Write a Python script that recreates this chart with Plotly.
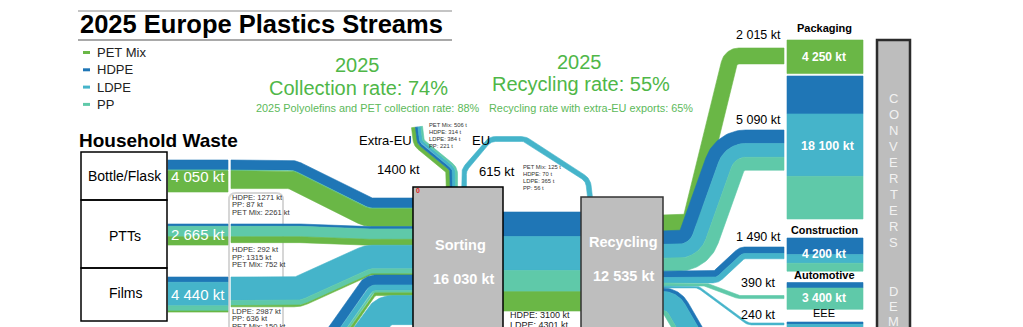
import numpy as np
import plotly.graph_objects as go

W, H = 1023, 327
S = 0.0079  # pixels per kilotonne
FONT = "Liberation Sans, Arial, sans-serif"

COL = {"PET Mix": "#6ab746", "HDPE": "#1f76b6", "LDPE": "#45b4ca", "PP": "#5fc9a9"}
MATERIALS = ["PET Mix", "HDPE", "LDPE", "PP"]

# ---- household waste streams -------------------------------------------
STREAMS = ["Bottle/Flask", "PTTs", "Films"]
STREAM_TOTAL = [4050, 2665, 4440]
BOTTLE_COLLECTED = [("HDPE", 1271), ("PP", 87), ("PET Mix", 2261)]
PTT_COLLECTED = [("HDPE", 292), ("PP", 1315), ("PET Mix", 752)]
FILM_COLLECTED = [("LDPE", 2987), ("PP", 636), ("PET Mix", 150)]
STREAM_REST = ["PET Mix", "PET Mix", "HDPE"]       # colour of the uncollected share
STREAM_REST_ON_TOP = [False, False, True]

# other collected waste entering sorting from sources further down
OTHER_IN_A = [("HDPE", 1250), ("LDPE", 700), ("PP", 300), ("PET Mix", 350)]
OTHER_IN_B = [("LDPE", 3679)]

SORTING_TOTAL = 16030
RECYCLING_TOTAL = 12535
TO_RECYCLING = [("HDPE", 3100), ("LDPE", 4301), ("PP", 2680), ("PET Mix", 2454)]

EXTRA_EU_TOTAL = 1400
EXTRA_EU_MIX = [("PET Mix", 506), ("HDPE", 314), ("LDPE", 384), ("PP", 221)]
EU_TOTAL = 615
EU_MIX = [("PET Mix", 125), ("HDPE", 70), ("LDPE", 365), ("PP", 56)]

# ---- recycled output by application ------------------------------------
TO_PACKAGING_PET = [("PET Mix", 2015)]
TO_PACKAGING_PO = [("HDPE", 1700), ("LDPE", 1750), ("PP", 1640)]
TO_CONSTRUCTION = [("HDPE", 820), ("LDPE", 670)]
TO_AUTOMOTIVE = [("PP", 390)]
TO_EEE = [("LDPE", 240)]
TO_OTHER = [("HDPE", 450), ("LDPE", 2400), ("PP", 460)]

PACKAGING_PET_DEMAND = [("PET Mix", 4250)]
PACKAGING_PO_DEMAND = [("HDPE", 4800), ("LDPE", 7900), ("PP", 5400)]
CONSTRUCTION_DEMAND = [("HDPE", 2100), ("LDPE", 1100), ("PP", 1000)]
AUTOMOTIVE_DEMAND = [("HDPE", 700), ("PP", 2700)]
EEE_DEMAND = [("HDPE", 300), ("LDPE", 1500)]

fig = go.Figure()


def kt(v):
    return f"{v:,}".replace(",", " ") + " kt"


def total(mix):
    return sum(v for _, v in mix)


def poly(xs, ys, colour):
    fig.add_trace(go.Scatter(x=xs, y=ys, mode="lines", fill="toself",
                             fillcolor=colour, line=dict(color=colour, width=0.6),
                             hoverinfo="skip", showlegend=False))


def stack(x0, x1, top, mix):
    """Vertical stack of material blocks starting at `top`; returns bottom."""
    y = top
    for mat, v in mix:
        h = v * S
        poly([x0, x1, x1, x0, x0], [y, y, y + h, y + h, y], COL[mat])
        y += h
    return y


def fillet_path(pts, radius, n=24):
    P = [np.asarray(p, float) for p in pts]

    def unit(v):
        return v / np.hypot(*v)

    out, tan = [P[0]], [unit(P[1] - P[0])]
    for i in range(1, len(P) - 1):
        u1, u2 = unit(P[i] - P[i - 1]), unit(P[i + 1] - P[i])
        cr = u1[0] * u2[1] - u1[1] * u2[0]
        th = np.arccos(np.clip(u1 @ u2, -1, 1))
        if th < 1e-6:
            out.append(P[i]); tan.append(u1)
            continue
        s = np.sign(cr)
        c = radius * np.tan(th / 2)
        a = P[i] - u1 * c
        ctr = a + s * np.array([-u1[1], u1[0]]) * radius
        a0 = np.arctan2(a[1] - ctr[1], a[0] - ctr[0])
        for t in np.linspace(0, 1, n):
            ang = a0 + s * th * t
            out.append(ctr + radius * np.array([np.cos(ang), np.sin(ang)]))
            tan.append(s * np.array([-np.sin(ang), np.cos(ang)]))
    out.append(P[-1]); tan.append(unit(P[-1] - P[-2]))
    return np.array(out), np.array(tan)


def ribbon(pts, mix, radius=10, flow_total=None):
    path, tan = fillet_path(pts, radius)
    nrm = np.stack([-tan[:, 1], tan[:, 0]], axis=1)
    vals = np.array([v for _, v in mix], float)
    if flow_total is not None:
        vals = vals / vals.sum() * flow_total
    widths = vals * S
    edges = np.concatenate([[0], np.cumsum(widths)]) - widths.sum() / 2
    for (mat, _), o1, o2 in zip(mix, edges[:-1], edges[1:]):
        a = path + nrm * o1
        b = path + nrm * o2
        p = np.vstack([a, b[::-1], a[:1]])
        poly(p[:, 0], p[:, 1], COL[mat])


def half(mix, flow_total=None):
    return (flow_total if flow_total is not None else total(mix)) * S / 2


# ---- left: household waste bars and flows into sorting -----------------
BAR_X0, BAR_X1, FLOW_X0 = 168, 228, 231
BAR_TOP = [160, 224, 277]
SORT_X0, SORT_X1, SORT_TOP = 414, 503, 187
SORT_IN_TOP = 198
collected = [BOTTLE_COLLECTED, PTT_COLLECTED, FILM_COLLECTED]

for i, mix in enumerate(collected):
    rest = STREAM_TOTAL[i] - total(mix)
    if STREAM_REST_ON_TOP[i]:
        bar = [(STREAM_REST[i], rest)] + mix
    else:
        bar = [(m, v + (rest if m == STREAM_REST[i] else 0)) for m, v in mix]
    stack(BAR_X0, BAR_X1, BAR_TOP[i], bar)

# centres of the incoming bands along the left edge of the sorting node
inflows = collected + [OTHER_IN_A, OTHER_IN_B]
centres, y = [], SORT_IN_TOP
for mix in inflows:
    centres.append(y + half(mix)); y += 2 * half(mix)

bend = [(292, 368, 18), (300, 370, 20), (298, 368, 18)]
for i, mix in enumerate(collected):
    y0 = BAR_TOP[i] + half(mix)
    xa, xb, r = bend[i]
    ribbon([(FLOW_X0, y0), (xa, y0), (xb, centres[i]), (SORT_X0, centres[i])], mix, r)

ribbon([(318, 360), (370, centres[3]), (SORT_X0, centres[3])], OTHER_IN_A, 12)
ribbon([(339, 372), (384, centres[4]), (SORT_X0, centres[4])], OTHER_IN_B, 16)

# ---- exports out of the sorting node -----------------------------------
ribbon([(452, 195), (452, 170), (419, 143), (417, 127)], EXTRA_EU_MIX, 8, EXTRA_EU_TOTAL)
ribbon([(464, 196), (464, 170), (490, 139), (525, 139), (588, 180), (590, 197)],
       [("LDPE", EU_TOTAL)], 12)

# ---- sorting -> recycling ----------------------------------------------
REC_X0, REC_X1, REC_TOP = 581, 663, 197
SR_TOP = 212
sr_c = SR_TOP + half(TO_RECYCLING)
ribbon([(SORT_X1 - 1, sr_c), (REC_X0 + 1, sr_c)], TO_RECYCLING, 10)

# ---- recycling -> applications -----------------------------------------
OUT_TOP = 215
END_X = 784
outs = [TO_PACKAGING_PET, TO_PACKAGING_PO, TO_CONSTRUCTION, TO_AUTOMOTIVE, TO_EEE, TO_OTHER]
oc, y = [], OUT_TOP
for mix in outs:
    oc.append(y + half(mix)); y += 2 * half(mix)

END_TOP = [48, 130, 247, 295.5, 323]
ec = [END_TOP[i] + half(outs[i]) for i in range(5)]
X = REC_X1 - 1
ribbon([(X, oc[0]), (690, oc[0]), (731, ec[0]), (END_X, ec[0])], outs[0], 10)
ribbon([(X, oc[1]), (694, oc[1]), (730, ec[1]), (END_X, ec[1])], outs[1], 22)
ribbon([(X, oc[2]), (716, oc[2]), (742, ec[2]), (END_X, ec[2])], outs[2], 8)
ribbon([(X, oc[3]), (706, oc[3]), (738, ec[3]), (END_X, ec[3])], outs[3], 10)
ribbon([(X, oc[4]), (698, oc[4]), (748, ec[4]), (END_X, ec[4])], outs[4], 10)
ribbon([(X, oc[5]), (672, oc[5]), (712, 370)], outs[5], 16)

# ---- application demand blocks ------------------------------------------
APP_X0, APP_X1 = 787, 863
DEMAND = [PACKAGING_PET_DEMAND, PACKAGING_PO_DEMAND, CONSTRUCTION_DEMAND,
          AUTOMOTIVE_DEMAND, EEE_DEMAND]
DEMAND_TOP = [40, 76, 238, 282.5, 322]
for mix, top in zip(DEMAND, DEMAND_TOP):
    stack(APP_X0, APP_X1, top, mix)

# ---- shapes --------------------------------------------------------------
shapes = [
    dict(type="line", x0=78, x1=452, y0=11, y1=11, line=dict(color="#c4c4c4", width=2)),
    dict(type="line", x0=78, x1=452, y0=40, y1=40, line=dict(color="#8c8c8c", width=1.5)),
    dict(type="path", path="M 229,200 Q 229,193 236,193 L 276,193 Q 283,193 283,200 L 283,340 L 229,340 Z",
         line=dict(color="#d6d6d6", width=2), fillcolor="white", layer="below"),
    dict(type="rect", x0=81, x1=167, y0=152, y1=200, line=dict(color="black", width=1.5)),
    dict(type="rect", x0=81, x1=167, y0=200, y1=268, line=dict(color="black", width=1.5)),
    dict(type="rect", x0=81, x1=167, y0=268, y1=321, line=dict(color="black", width=1.5)),
    dict(type="rect", x0=SORT_X0 - 1, x1=SORT_X1, y0=SORT_TOP, y1=345,
         fillcolor="#bebebe", line=dict(color="black", width=1.5)),
    dict(type="rect", x0=REC_X0, x1=REC_X1, y0=REC_TOP, y1=345,
         fillcolor="#bebebe", line=dict(color="#333333", width=1.5)),
    dict(type="rect", x0=877, x1=910, y0=40, y1=345,
         fillcolor="#bdbdbd", line=dict(color="#2b2b2b", width=2.5)),
]
for i, mat in enumerate(MATERIALS):
    yy = 52.5 + 17.3 * i
    shapes.append(dict(type="line", x0=83, x1=90, y0=yy, y1=yy,
                       line=dict(color=COL[mat], width=3)))

# ---- text ----------------------------------------------------------------
ann = []


def text(x, y, s, size, colour="black", anchor="center", bold=False):
    ann.append(dict(x=x, y=y, text=f"<b>{s}</b>" if bold else s, showarrow=False,
                    xanchor=anchor, yanchor="middle",
                    font=dict(family=FONT, size=size, color=colour)))


GREEN = "#4fb748"
text(78, 24, "2025 Europe Plastics Streams", 25.5, anchor="left", bold=True)
for i, mat in enumerate(MATERIALS):
    text(95, 52.5 + 17.3 * i, mat, 13, "#222", anchor="left")

text(357, 65, "2025", 20, GREEN)
text(358, 88, "Collection rate: 74%", 20, GREEN)
text(368, 108, "2025 Polyolefins and PET collection rate: 88%", 10.9, "#5cb95a")
text(579, 62, "2025", 20, GREEN)
text(581, 84, "Recycling rate: 55%", 20, GREEN)
text(591, 108, "Recycling rate with extra-EU exports: 65%", 10.9, "#5cb95a")

text(77, 140, "Household Waste", 19, anchor="left", bold=True)
box_mid = [176, 236, 293]
for i, name in enumerate(STREAMS):
    text(125, box_mid[i], name, 14)
    text(198, BAR_TOP[i] + STREAM_TOTAL[i] * S / 2, kt(STREAM_TOTAL[i]), 15, "white")

label_top = [197, 249.5, 311]
for i, mix in enumerate(collected):
    order = ["HDPE", "PP", "PET Mix"] if i < 2 else ["LDPE", "PP", "PET Mix"]
    vals = dict(mix)
    for j, m in enumerate(order):
        text(230, label_top[i] + 7.5 * j, f"{m}: {vals[m]} kt", 7.6, "#333", anchor="left")

text(385, 140, "Extra-EU", 13)
text(481, 140, "EU", 13)
text(398, 169, f"{EXTRA_EU_TOTAL} kt", 13)
text(497, 171, kt(EU_TOTAL), 13)
for j, (m, v) in enumerate(EXTRA_EU_MIX):
    text(427, 125 + 7 * j, f"{m}: {v} t", 5.8, "#333", anchor="left")
for j, (m, v) in enumerate(EU_MIX):
    text(521, 167 + 7 * j, f"{m}: {v} t", 5.8, "#333", anchor="left")

text(418, 190, "0", 7, "#e02020", bold=True)
text(460, 245, "Sorting", 14.5, "white", bold=True)
text(463, 279, kt(SORTING_TOTAL), 14.5, "white", bold=True)
text(623, 242, "Recycling", 14.5, "white", bold=True)
text(623, 276, kt(RECYCLING_TOTAL), 14.5, "white", bold=True)
sr_vals = dict(TO_RECYCLING)
text(508, 315, f"HDPE: {sr_vals['HDPE']} kt", 9, "#222", anchor="left")
text(508, 325, f"LDPE: {sr_vals['LDPE']} kt", 9, "#222", anchor="left")

flow_labels = [(35, total(outs[0])), (120, total(outs[1])), (237, total(outs[2])),
               (283, total(outs[3])), (315, total(outs[4]))]
for yy, v in flow_labels:
    text(758, yy, kt(v), 12.5)

text(824, 28, "Packaging", 11, bold=True)
text(824, 57, kt(total(PACKAGING_PET_DEMAND)), 12, "white", bold=True)
text(828, 146, kt(total(PACKAGING_PO_DEMAND)), 12.5, "white", bold=True)
text(824, 230, "Construction", 10.8, bold=True)
text(824, 254, kt(total(CONSTRUCTION_DEMAND)), 12, "white", bold=True)
text(824, 275, "Automotive", 11, bold=True)
text(824, 298, kt(total(AUTOMOTIVE_DEMAND)), 12, "white", bold=True)
text(824, 313, "EEE", 11)
text(824, 330, kt(total(EEE_DEMAND)), 12, "white", bold=True)

for i, ch in enumerate("CONVERTERS"):
    text(893.5, 98 + 16 * i, ch, 13, "#f2f2f2")
for i, ch in enumerate("DEMAND"):
    text(893.5, 291.5 + 15 * i, ch, 13, "#f2f2f2")

fig.update_layout(
    width=W, height=H, autosize=False,
    margin=dict(l=0, r=0, t=0, b=0),
    paper_bgcolor="white", plot_bgcolor="white",
    xaxis=dict(range=[0, W], visible=False, fixedrange=True),
    yaxis=dict(range=[H, 0], visible=False, fixedrange=True),
    shapes=shapes, annotations=ann, showlegend=False,
)
fig.write_html("out.html", config={"displayModeBar": False})
